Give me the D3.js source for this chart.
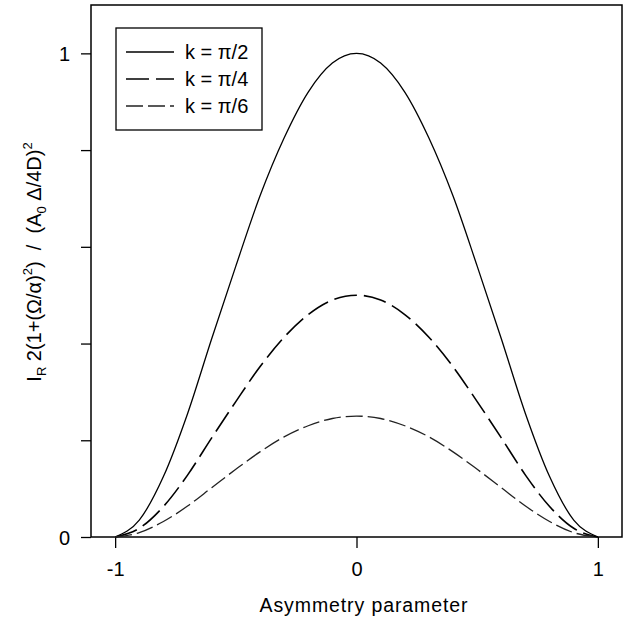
<!DOCTYPE html>
<html>
<head>
<meta charset="utf-8">
<script src="https://cdn.jsdelivr.net/npm/d3@7"></script>
<style>
  body { margin: 0; background: #fff; }
  svg { display: block; }
  text { font-family: "Liberation Sans", Arial, Helvetica, sans-serif; fill: #000; }
</style>
</head>
<body>
<svg id="chart" width="624" height="622"></svg>
<script>
// values, asymmetry parameter from -1 to 1 in steps of 0.1
const asym = [-1, -0.9, -0.8, -0.7, -0.6, -0.5, -0.4, -0.3, -0.2, -0.1, 0,
  0.1, 0.2, 0.3, 0.4, 0.5, 0.6, 0.7, 0.8, 0.9, 1];
const kHalf = [0, 0.035, 0.125, 0.255, 0.41, 0.56, 0.705, 0.825, 0.92, 0.98, 1,
  0.98, 0.92, 0.825, 0.705, 0.56, 0.41, 0.255, 0.125, 0.035, 0];
const kQuarter = [0, 0.018, 0.063, 0.128, 0.205, 0.28, 0.352, 0.413, 0.46, 0.49, 0.5,
  0.49, 0.46, 0.413, 0.352, 0.28, 0.205, 0.128, 0.063, 0.018, 0];
const kSixth = [0, 0.009, 0.032, 0.064, 0.102, 0.14, 0.176, 0.207, 0.23, 0.245, 0.25,
  0.245, 0.23, 0.207, 0.176, 0.14, 0.102, 0.064, 0.032, 0.009, 0];
const seriesNames = ['k = π/2', 'k = π/4', 'k = π/6'];
const xTicks = [-1, 0, 1];
const yTicks = [0, 0.2, 0.4, 0.6, 0.8, 1];

const series = [
  { name: seriesNames[0], values: kHalf, dash: null, width: 1.3, color: '#000' },
  { name: seriesNames[1], values: kQuarter, dash: '23,7', width: 1.6, color: '#000' },
  { name: seriesNames[2], values: kSixth, dash: '17,5', width: 1.3, color: '#222' },
];

const m = { left: 91, right: 622, top: 5, bottom: 537 };

const svg = d3.select('#chart');

const x = d3.scaleLinear().domain([-1.1, 1.1]).range([m.left, m.right]);
const y = d3.scaleLinear().domain([0, 1.1]).range([m.bottom, m.top]);

// axes
const gx = svg.append('g')
  .attr('transform', `translate(0,${m.bottom})`)
  .call(d3.axisBottom(x).tickValues(xTicks).tickSize(11).tickPadding(14).tickFormat(d3.format('d')));
const gy = svg.append('g')
  .attr('transform', `translate(${m.left},0)`)
  .call(d3.axisLeft(y).tickValues(yTicks).tickSize(10).tickPadding(11)
    .tickFormat(d => (d === 0 || d === 1) ? d : ''));

[gx, gy].forEach(g => {
  g.select('.domain').remove();
  g.selectAll('line').attr('stroke', '#000').attr('stroke-width', 1.3);
  g.selectAll('text')
    .style('font-size', '20px')
    .style('font-family', '"Liberation Sans", Arial, sans-serif')
    .attr('fill', '#000');
});
gx.selectAll('text').text(d => d < 0 ? '-' + Math.abs(d) : d);
gy.selectAll('text').attr('dy', '0.36em');

// frame
svg.append('rect')
  .attr('x', m.left).attr('y', m.top)
  .attr('width', m.right - m.left).attr('height', m.bottom - m.top)
  .attr('fill', 'none').attr('stroke', '#000').attr('stroke-width', 1.5);

// curves
const line = d3.line()
  .x((d, i) => x(asym[i]))
  .y(d => y(d))
  .curve(d3.curveMonotoneX);

svg.append('g').selectAll('path')
  .data(series)
  .join('path')
  .attr('d', s => line(s.values))
  .attr('fill', 'none')
  .attr('stroke', s => s.color)
  .attr('stroke-width', s => s.width)
  .attr('stroke-dasharray', s => s.dash);

// legend
const lg = svg.append('g');
lg.append('rect')
  .attr('x', 116).attr('y', 28)
  .attr('width', 146).attr('height', 102)
  .attr('fill', '#fff').attr('stroke', '#000').attr('stroke-width', 1.3);

series.forEach((s, i) => {
  const ly = 52 + i * 27;
  lg.append('line')
    .attr('x1', 126).attr('x2', 174)
    .attr('y1', ly).attr('y2', ly)
    .attr('stroke', s.color)
    .attr('stroke-width', s.width)
    .attr('stroke-dasharray', s.dash);
  lg.append('text')
    .attr('x', 185).attr('y', ly + 7)
    .style('font-size', '20px')
    .text(s.name);
});

// axis titles
svg.append('text')
  .attr('x', 364).attr('y', 612)
  .attr('text-anchor', 'middle')
  .style('font-size', '19.5px')
  .style('letter-spacing', '0.9px')
  .text('Asymmetry parameter');

const yt = svg.append('text')
  .attr('transform', 'translate(41,262) rotate(-90)')
  .attr('text-anchor', 'middle')
  .style('white-space', 'pre')
  .style('font-size', '20px');
yt.append('tspan').text('I');
yt.append('tspan').attr('dy', 5).style('font-size', '13px').text('R');
yt.append('tspan').attr('dy', -5).text(' 2(1+(Ω/α)');
yt.append('tspan').attr('dy', -9).style('font-size', '13px').text('2');
yt.append('tspan').attr('dy', 9).text(')  /  (A');
yt.append('tspan').attr('dy', 5).style('font-size', '13px').text('0');
yt.append('tspan').attr('dy', -5).text(' Δ/4D)');
yt.append('tspan').attr('dy', -9).style('font-size', '13px').text('2');
</script>
</body>
</html>
